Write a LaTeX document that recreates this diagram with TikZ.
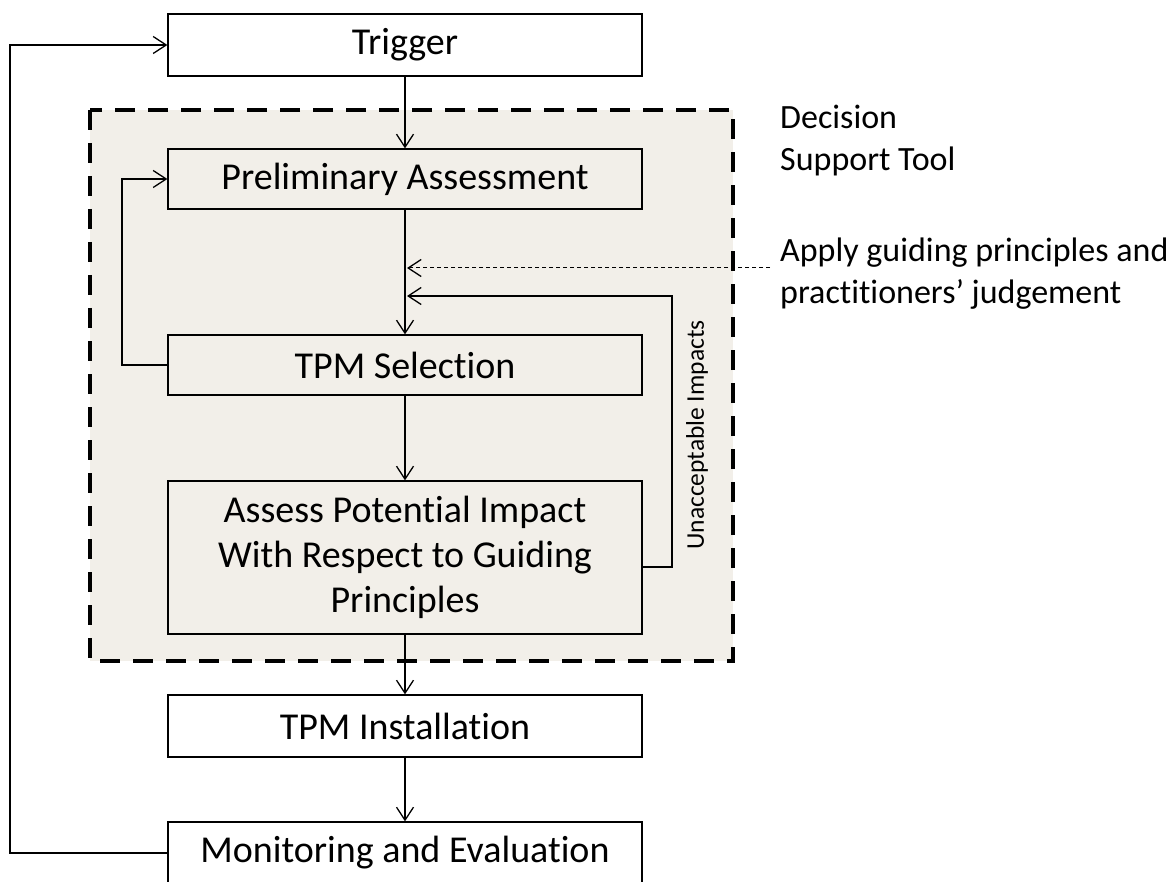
\documentclass[tikz,border=0pt]{standalone}
\usepackage{fontspec}
\setmainfont{Carlito}[Ligatures=NoCommon]
\usetikzlibrary{arrows.meta}
\definecolor{dstbg}{RGB}{242,239,233}
\tikzset{
  box/.style={draw=black, line width=1.3pt, minimum width=474pt, minimum height=62pt, inner sep=0pt, align=center, font=\fontsize{38}{45}\selectfont},
  conn/.style={line width=1.3pt, -{Straight Barb[length=13pt,width=17pt,line width=1.3pt]}},
  dstbox/.style={fill=dstbg, draw=black, line width=4pt, dash pattern=on 20pt off 13pt},
  note/.style={font=\fontsize{34}{42}\selectfont, align=left, inner sep=0pt},
}
\begin{document}
\begin{tikzpicture}[x=1pt,y=-1pt]
\useasboundingbox (0,0) rectangle (1169,882);
\clip (0,0) rectangle (1169,882);
% decision support tool area
\draw[dstbox] (90,110) rectangle (733,661);
% boxes
\node[box] (trig) at (405,45) {Trigger};
\node[box, minimum height=60pt] (prelim) at (405,179) {Preliminary Assessment};
\node[box, minimum height=60pt] (sel) at (405,365) {TPM Selection};
\node[box, minimum height=153pt] (assess) at (405,557.5) {Assess Potential Impact\\With Respect to Guiding\\Principles};
\node[box] (inst) at (405,726) {TPM Installation};
\node[box] (mon) at (405,853) {Monitoring and Evaluation};
% labels
\node[note, anchor=north west] (dst) at (780,105) {Decision\\Support Tool};
\node[note, anchor=north west] (apply) at (780,238) {Apply guiding principles and\\practitioners’ judgement};
\node[font=\fontsize{25.5}{30}\selectfont, rotate=90, inner sep=0pt] (unacc) at (697,435) {Unacceptable Impacts};
% main flow
\draw[conn] (trig) -- (prelim);
\draw[conn] (prelim) -- (sel);
\draw[conn] (sel) -- (assess);
\draw[conn] (assess) -- (inst);
\draw[conn] (inst) -- (mon);
% dashed guidance arrow
\coordinate (gstart) at (770,268);
\coordinate (gend) at (407,268);
\draw[conn, line width=1pt, dash pattern=on 4pt off 3pt] (gstart) -- (gend);
% unacceptable impacts loop
\coordinate (uout) at (642,567);
\coordinate (ucorner) at (672,567);
\coordinate (utop) at (672,296);
\coordinate (uend) at (407,296);
\draw[conn] (uout) -- (ucorner) -- (utop) -- (uend);
% feedback loops
\coordinate (fb1) at (122,365);
\draw[conn] (sel.west) -- (fb1) |- (prelim.west);
\coordinate (fb2) at (10,853);
\draw[conn] (mon.west) -- (fb2) |- (trig.west);
\end{tikzpicture}
\end{document}
